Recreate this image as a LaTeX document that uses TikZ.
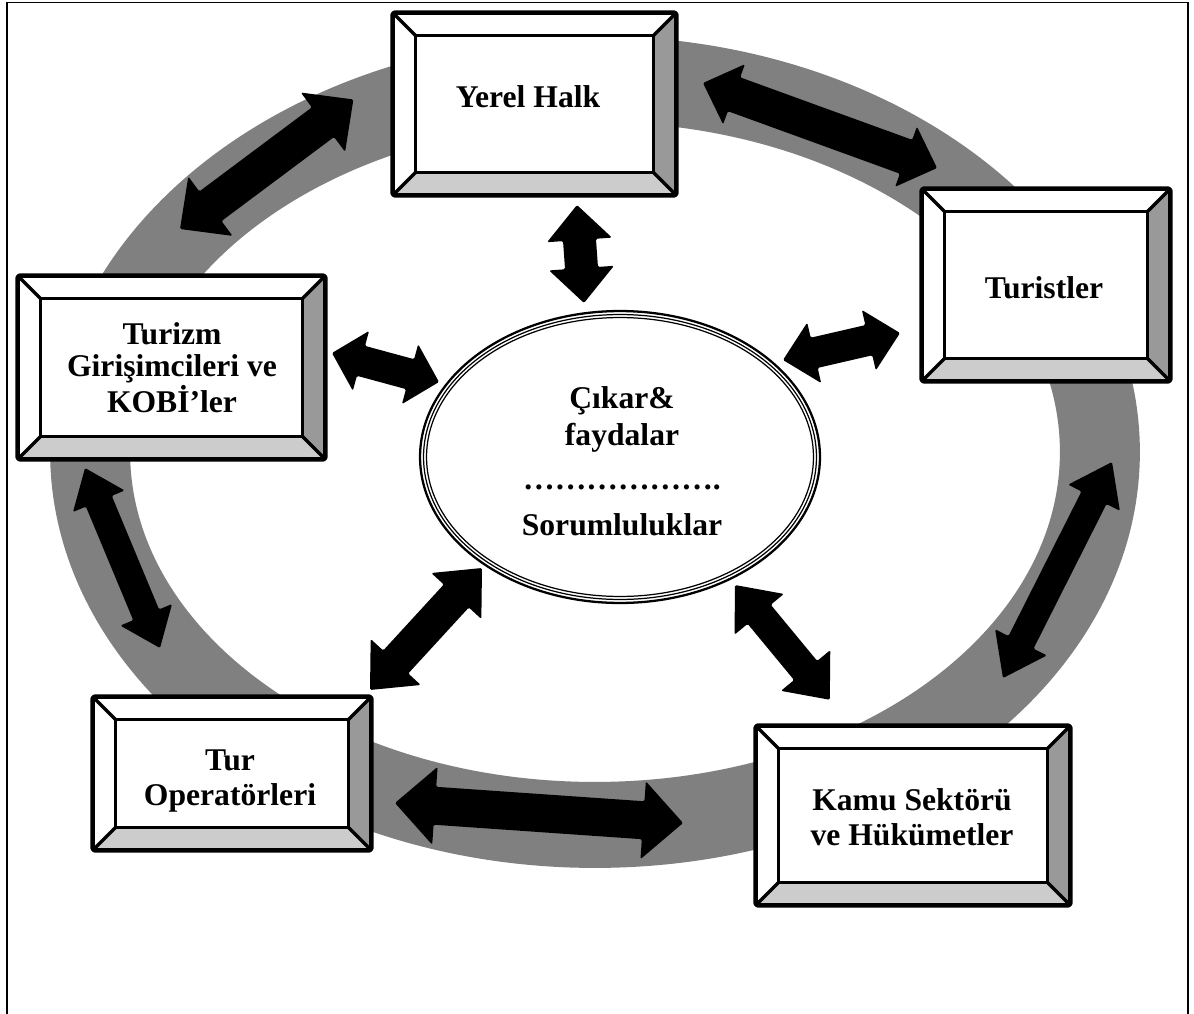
\documentclass[tikz,border=0pt]{standalone}
\usepackage{fontspec}
\setmainfont{Liberation Serif}
\usetikzlibrary{calc,shapes.geometric}
\definecolor{ringgray}{HTML}{808080}
\definecolor{bevR}{HTML}{999999}
\definecolor{bevB}{HTML}{CCCCCC}
\newcommand\bev{23}
\newcommand\bevelbox[5]{% name, cx, cy, w, h (px)
  \node[boxnode, minimum width={#4*0.02cm}, minimum height={#5*0.02cm}] (#1) at (#2,#3) {};
  \coordinate (#1-a) at ($(#1.north west)+(\bev,\bev)$);
  \coordinate (#1-b) at ($(#1.north east)+(-\bev,\bev)$);
  \coordinate (#1-c) at ($(#1.south east)+(-\bev,-\bev)$);
  \coordinate (#1-d) at ($(#1.south west)+(\bev,-\bev)$);
  \fill[bevR] (#1.north east) -- (#1.south east) -- (#1-c) -- (#1-b) -- cycle;
  \fill[bevB] (#1.south east) -- (#1.south west) -- (#1-d) -- (#1-c) -- cycle;
  \draw[bevline] (#1.north west) -- (#1-a) (#1.north east) -- (#1-b)
                 (#1.south east) -- (#1-c) (#1.south west) -- (#1-d);
  \draw[bevline] (#1-a) rectangle (#1-c);
  \draw[outline] (#1.north west) rectangle (#1.south east);
}
\newcommand\dblarrow[5]{% from, to, shaft half, head half, head length (px)
  \path let \p1=(#1), \p2=(#2) in \pgfextra{%
    \pgfmathsetmacro\tmpang{atan2(\y2-\y1,\x2-\x1)}%
    \pgfmathsetmacro\tmplen{veclen(\x2-\x1,\y2-\y1)/0.569055}%
    \global\let\arrang\tmpang \global\let\arrlen\tmplen};
  \fill[arrowfill, shift={(#1)}, rotate=\arrang]
    (0,0) -- (#5,#4) -- (#5,#3) -- ({\arrlen-#5},#3) -- ({\arrlen-#5},#4)
    -- (\arrlen,0) -- ({\arrlen-#5},-#4) -- ({\arrlen-#5},-#3) -- (#5,-#3)
    -- (#5,-#4) -- cycle;
}
\begin{document}
\begin{tikzpicture}[x=0.02cm,y=-0.02cm,
  boxnode/.style={draw=none, fill=white, inner sep=0pt, rectangle},
  bevline/.style={line width=1.9pt, line join=round},
  outline/.style={line width=2.5pt, line join=round, rounded corners=1pt},
  lbl/.style={font=\fontsize{18}{19.9}\selectfont\bfseries, align=center, inner sep=0pt, anchor=base},
  arrowfill/.style={fill=black, rounded corners=0.8pt},
  frame/.style={line width=0.85pt}]
\useasboundingbox (0,0) rectangle (1194,1014);

% frame
\coordinate (f1) at (7,1014);
\coordinate (f2) at (7,2.5);
\coordinate (f3) at (1188,2.5);
\coordinate (f4) at (1188,1014);
\draw[frame] (f1) -- (f2) -- (f3) -- (f4);

% ring
\coordinate (ringc) at (595,452);
\fill[ringgray, even odd rule] (ringc) ellipse [x radius=10.9cm, y radius=8.32cm]
      (ringc) ellipse [x radius=9.3cm, y radius=6.6cm];

% arrow end points
\coordinate (a1s) at (180,229);  \coordinate (a1e) at (354,99);
\coordinate (a2s) at (703,83);   \coordinate (a2e) at (937,168);
\coordinate (a3s) at (577,205);  \coordinate (a3e) at (584,303);
\coordinate (a4s) at (332,353);  \coordinate (a4e) at (439,382);
\coordinate (a5s) at (783,360);  \coordinate (a5e) at (900,333);
\coordinate (a6s) at (85,468);   \coordinate (a6e) at (160,648);
\coordinate (a7s) at (482,568);  \coordinate (a7e) at (370,690);
\coordinate (a8s) at (735,585);  \coordinate (a8e) at (830,700);
\coordinate (a9s) at (1112,462); \coordinate (a9e) at (1003,678);
\coordinate (a10s) at (395,803); \coordinate (a10e) at (683,823);

\dblarrow{a1s}{a1e}{18.5}{37}{38}
\dblarrow{a2s}{a2e}{18}{32}{33}
\dblarrow{a3s}{a3e}{16.5}{32.5}{35}
\dblarrow{a4s}{a4e}{15.5}{31}{30}
\dblarrow{a5s}{a5e}{15.5}{31}{32}
\dblarrow{a6s}{a6e}{14}{28}{36}
\dblarrow{a7s}{a7e}{17}{34}{38}
\dblarrow{a8s}{a8e}{15}{32}{38}
\dblarrow{a9s}{a9e}{14}{29}{40}
\dblarrow{a10s}{a10e}{19}{39}{40}

% boxes
\bevelbox{yh}{534.5}{104}{283}{182}
\bevelbox{tu}{1046}{285}{248}{192}
\bevelbox{tg}{171.5}{367.5}{307}{183}
\bevelbox{to}{232}{773.5}{278}{153}
\bevelbox{ks}{913}{815.5}{314}{179}

% central ellipse
\node[ellipse, draw, fill=white, line width=1.3pt, minimum width=8cm, minimum height=5.84cm, inner sep=0pt] (ell) at (620,457) {};
\draw[line width=0.7pt] (ell.center) ellipse [x radius=3.93cm, y radius=2.85cm];
\draw[line width=0.7pt] (ell.center) ellipse [x radius=3.87cm, y radius=2.79cm];

% labels (base = baseline of the last line)
\node[lbl] (yh-t) at (528,107) {Yerel Halk};
\node[lbl] (tu-t) at (1044,298) {Turistler};
\node[lbl, font=\fontsize{18}{18.5}\selectfont\bfseries] (tg-t) at (172,412) {Turizm\\Girişimcileri ve\\KOBİ’ler};
\node[lbl] (to-t) at (230,805) {Tur\\Operatörleri};
\node[lbl] (ks-t) at (912,845) {Kamu Sektörü\\ve Hükümetler};
\node[lbl, font=\fontsize{18}{21}\selectfont\bfseries] (ell-t) at (622,535) {Çıkar\&\\faydalar\\[4pt]……………….\\[5pt]Sorumluluklar};
\end{tikzpicture}
\end{document}
